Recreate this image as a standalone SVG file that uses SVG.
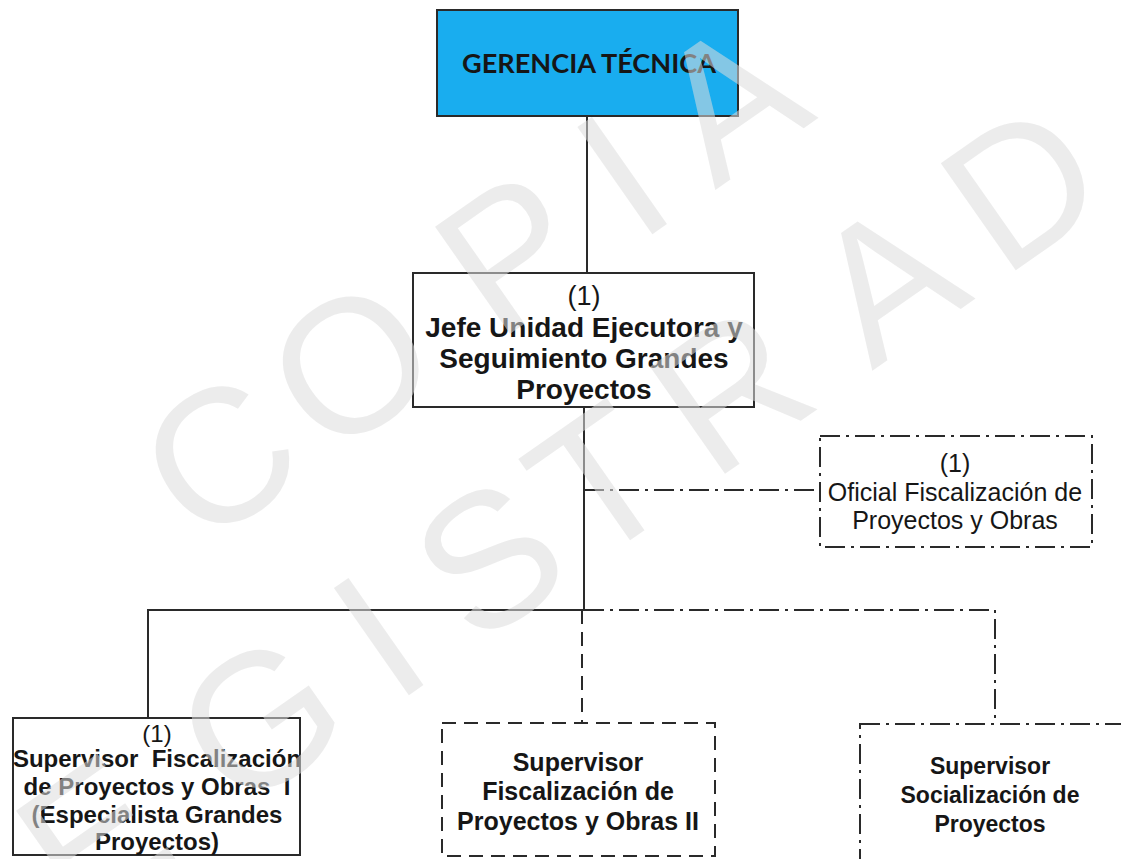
<svg xmlns="http://www.w3.org/2000/svg" width="1121" height="859" viewBox="0 0 1121 859">
<style>
.bg{fill:#ffffff}
.box{fill:#ffffff;stroke:#2a2a2a;stroke-width:2}
.top{fill:#19adef;stroke:#2a2a2a;stroke-width:2}
.dd{fill:none;stroke:#2a2a2a;stroke-width:2;stroke-dasharray:20 6 3 6}
.dsh{fill:none;stroke:#2a2a2a;stroke-width:2;stroke-dasharray:14 8}
.ln{fill:none;stroke:#2a2a2a;stroke-width:2}
.t{font-family:"Liberation Sans",Arial,sans-serif;fill:#161616;text-anchor:middle}
.b{font-weight:bold}
.cal{font-family:Lato,"Open Sans",sans-serif;font-weight:bold;fill:#161616;text-anchor:middle}
.wm{font-family:"Liberation Sans",Arial,sans-serif;font-size:190px;fill:#dcdcdc;fill-opacity:0.55;text-anchor:middle}
</style>
<rect class="bg" x="0" y="0" width="1121" height="859"/>

<g id="connectors">
  <line class="ln" x1="587" y1="116" x2="587" y2="273"/>
  <line class="ln" x1="584" y1="407" x2="584" y2="610"/>
  <line class="dd" x1="584" y1="490" x2="820" y2="490"/>
  <polyline class="ln" points="584,610 148,610 148,718"/>
  <line class="dsh" x1="582" y1="610" x2="582" y2="723"/>
  <polyline class="dd" points="584,610 995,610 995,724"/>
</g>

<g id="gerencia">
  <rect class="top" x="437" y="10" width="301" height="106"/>
  <text class="cal" x="589" y="73" font-size="26" textLength="254" lengthAdjust="spacingAndGlyphs">GERENCIA TÉCNICA</text>
</g>

<g id="jefe">
  <rect class="box" x="413" y="273" width="341" height="134"/>
  <text class="t" x="584" y="305" font-size="27">(1)</text>
  <text class="t b" x="584" y="337" font-size="28">Jefe Unidad Ejecutora y</text>
  <text class="t b" x="584" y="368" font-size="28">Seguimiento Grandes</text>
  <text class="t b" x="584" y="399" font-size="28">Proyectos</text>
</g>

<g id="oficial">
  <rect class="dd" x="820" y="436" width="272" height="111"/>
  <text class="t" x="955" y="472" font-size="25">(1)</text>
  <text class="t" x="955" y="501" font-size="25">Oficial Fiscalización de</text>
  <text class="t" x="955" y="529" font-size="25">Proyectos y Obras</text>
</g>

<g id="supervisor1">
  <rect class="box" x="13" y="718" width="287" height="137"/>
  <text class="t" x="157" y="742" font-size="24">(1)</text>
  <text class="t b" x="157" y="767" font-size="24" xml:space="preserve">Supervisor  Fiscalización</text>
  <text class="t b" x="157" y="795" font-size="24" xml:space="preserve">de Proyectos y Obras  I</text>
  <text class="t b" x="157" y="823" font-size="24">(Especialista Grandes</text>
  <text class="t b" x="157" y="850" font-size="24">Proyectos)</text>
</g>

<g id="supervisor2">
  <rect class="dsh" x="442" y="723" width="273" height="133"/>
  <text class="t b" x="578" y="771" font-size="25">Supervisor</text>
  <text class="t b" x="578" y="800" font-size="25">Fiscalización de</text>
  <text class="t b" x="578" y="830" font-size="25">Proyectos y Obras II</text>
</g>

<g id="supervisor3">
  <rect class="dd" x="860" y="724" width="290" height="150"/>
  <text class="t b" x="990" y="774" font-size="23">Supervisor</text>
  <text class="t b" x="990" y="803" font-size="23">Socialización de</text>
  <text class="t b" x="990" y="832" font-size="23">Proyectos</text>
</g>

<g id="watermark" transform="rotate(-35)">
  <text class="wm" x="-83" y="566">C</text>
  <text class="wm" x="78" y="566">O</text>
  <text class="wm" x="274" y="566">P</text>
  <text class="wm" x="409" y="566">I</text>
  <text class="wm" x="540" y="566">A</text>
  <text class="wm" x="-404" y="804">E</text>
  <text class="wm" x="-200" y="804">G</text>
  <text class="wm" x="-55" y="804">I</text>
  <text class="wm" x="80" y="804">S</text>
  <text class="wm" x="215" y="804">T</text>
  <text class="wm" x="375" y="804">R</text>
  <text class="wm" x="565" y="804">A</text>
  <text class="wm" x="730" y="804">D</text>
</g>
</svg>
